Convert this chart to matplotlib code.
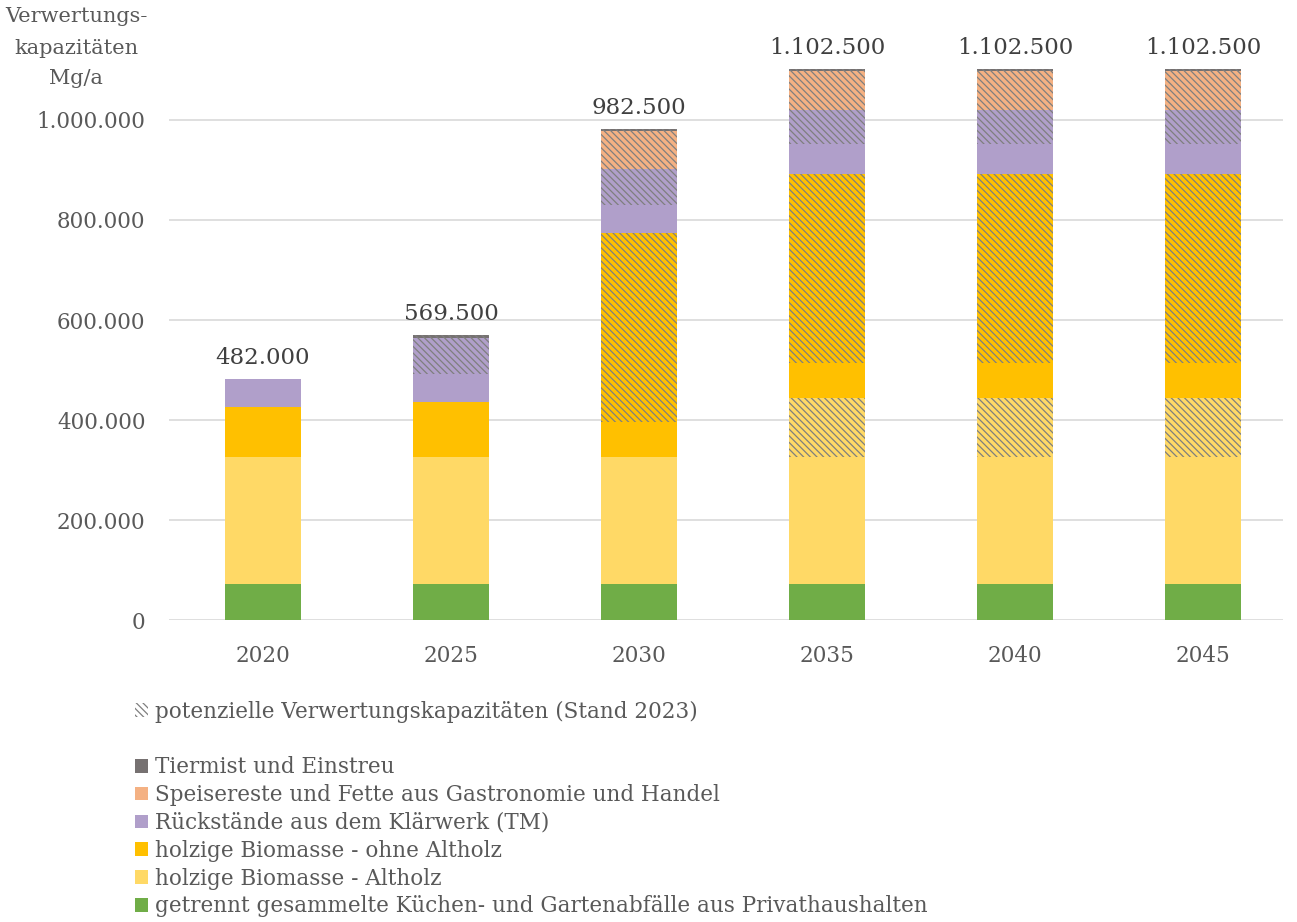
import matplotlib.pyplot as plt
from matplotlib.patches import Patch

plt.rcParams['font.family'] = ['DejaVu Serif']
plt.rcParams['hatch.linewidth'] = 0.9

years = ["2020", "2025", "2030", "2035", "2040", "2045"]

# Mg/a, stacked bottom -> top
kuechen = [72000, 72000, 72000, 72000, 72000, 72000]
altholz = [254000, 254000, 254000, 254000, 254000, 254000]
altholz_pot = [0, 0, 0, 118000, 118000, 118000]
ohne_altholz = [100000, 110000, 70000, 70000, 70000, 70000]
ohne_altholz_pot = [0, 0, 378000, 378000, 378000, 378000]
klaerwerk = [56000, 56000, 56000, 60000, 60000, 60000]
klaerwerk_pot = [0, 72000, 72000, 68000, 68000, 68000]
speisereste_pot = [0, 0, 75000, 77000, 77000, 77000]
tiermist_pot = [0, 5500, 5500, 5500, 5500, 5500]

c_kuechen = "#70AD47"
c_altholz = "#FFD966"
c_ohne = "#FFC000"
c_klaer = "#B09FCA"
c_speise = "#F4B183"
c_tiermist = "#767171"
c_hatch = "#7F7F7F"
c_text = "#595959"
HATCH = "\\\\\\\\\\"

layers = [
    (kuechen, c_kuechen, False),
    (altholz, c_altholz, False),
    (altholz_pot, c_altholz, True),
    (ohne_altholz, c_ohne, False),
    (ohne_altholz_pot, c_ohne, True),
    (klaerwerk, c_klaer, False),
    (klaerwerk_pot, c_klaer, True),
    (speisereste_pot, c_speise, True),
    (tiermist_pot, c_tiermist, True),
]

fig = plt.figure(figsize=(12.97, 9.22), dpi=100)
ax = fig.add_axes([169/1297, 1 - 620/922, (1283-169)/1297, (620-45)/922])

x = list(range(len(years)))
bottom = [0] * len(years)
for vals, col, pot in layers:
    if pot:
        ax.bar(x, vals, width=0.4, bottom=bottom, color=col, edgecolor=c_hatch,
               linewidth=0, hatch=HATCH, zorder=3)
    else:
        ax.bar(x, vals, width=0.4, bottom=bottom, color=col, linewidth=0, zorder=3)
    bottom = [b + v for b, v in zip(bottom, vals)]

def fmt(v):
    return f"{v:,.0f}".replace(",", ".")

for i, tot in enumerate(bottom):
    ax.text(i, tot + 20000, fmt(tot), ha="center", va="bottom", fontsize=16.5, color="#404040")

ax.set_xlim(-0.5, 5.426)
ax.set_ylim(0, 1150000)
ax.set_xticks(x)
ax.set_xticklabels(years)
ax.set_yticks(range(0, 1000001, 200000))
ax.set_yticklabels([fmt(v) for v in range(0, 1000001, 200000)])
ax.tick_params(length=0, labelsize=15.5, colors=c_text)
ax.tick_params(axis="x", pad=18)
ax.tick_params(axis="y", pad=17)
ax.grid(axis="y", color="#D9D9D9", linewidth=1.2, zorder=0)
for s in ax.spines.values():
    s.set_visible(False)

for txt, yp in [("Verwertungs-", 17), ("kapazitäten", 48), ("Mg/a", 79)]:
    fig.text(76/1297, 1 - yp/922, txt, ha="center", va="center", fontsize=15, color=c_text)

handles = [
    Patch(facecolor="white", edgecolor=c_hatch, linewidth=0, hatch=HATCH),
    Patch(facecolor="none", edgecolor="none"),
    Patch(facecolor=c_tiermist),
    Patch(facecolor=c_speise),
    Patch(facecolor=c_klaer),
    Patch(facecolor=c_ohne),
    Patch(facecolor=c_altholz),
    Patch(facecolor=c_kuechen),
]
labels = [
    "potenzielle Verwertungskapazitäten (Stand 2023)",
    " ",
    "Tiermist und Einstreu",
    "Speisereste und Fette aus Gastronomie und Handel",
    "Rückstände aus dem Klärwerk (TM)",
    "holzige Biomasse - ohne Altholz",
    "holzige Biomasse - Altholz",
    "getrennt gesammelte Küchen- und Gartenabfälle aus Privathaushalten",
]
leg = fig.legend(handles, labels, loc="upper left", bbox_to_anchor=(126/1297, 1 - 692/922),
                 frameon=False, fontsize=15.5, handlelength=0.6, handleheight=0.6,
                 handletextpad=0.35, labelspacing=0.27, borderaxespad=0)
for t in leg.get_texts():
    t.set_color(c_text)

fig.savefig("out.png", dpi=100)
